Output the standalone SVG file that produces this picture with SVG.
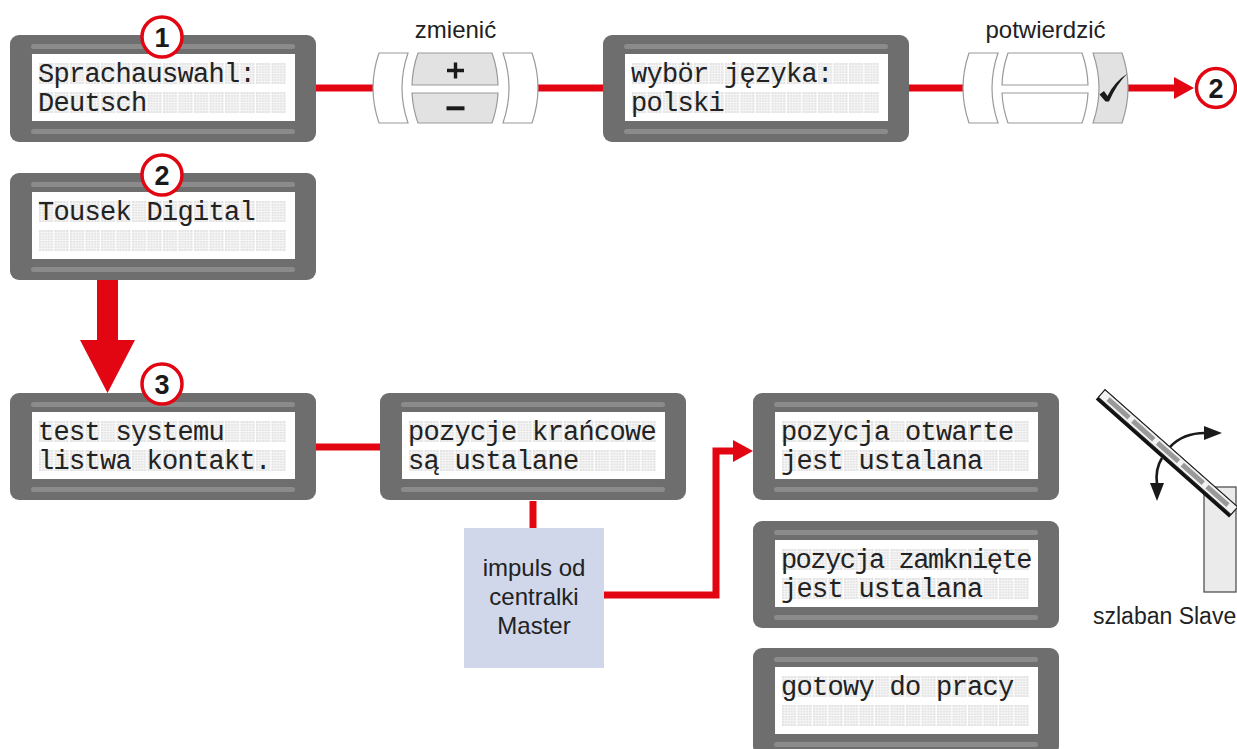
<svg xmlns="http://www.w3.org/2000/svg" xmlns:xlink="http://www.w3.org/1999/xlink" width="1237" height="749" viewBox="0 0 1237 749">
  <style>
    .frame{fill:#6e6e6e}
    .stripe{fill:#8b8b8b}
    .screen{fill:#fff}
    .cells{fill:url(#lcdCells)}
    .lcd{font-family:"Liberation Mono","DejaVu Sans Mono",monospace;font-size:27px;letter-spacing:-0.7px;fill:#222}
    .wire{fill:none;stroke:#e20613;stroke-width:7}
    .badge circle{fill:#fff;stroke:#e20613;stroke-width:3.5}
    .badge text{font-family:"Liberation Sans",Arial,sans-serif;font-weight:bold;font-size:27px;fill:#1a1a1a;text-anchor:middle}
    .label{font-family:"Liberation Sans",Arial,sans-serif;font-size:24px;fill:#222}
    .key{fill:#fff;stroke:#9a9a9a;stroke-width:1.2}
    .key.pressed{fill:#e2e2e2}
    .sign{fill:none;stroke:#1a1a1a}
    .ink{fill:#1a1a1a}
  </style>
  <defs>
    <!-- one 5x8 character cell of the LCD, repeated along each row -->
    <pattern id="lcdCells" patternUnits="userSpaceOnUse" x="29" y="28" width="15.5" height="29">
      <rect width="14" height="21" fill="#e3e3e3"/>
      <path d="M2.8,0V21M5.6,0V21M8.4,0V21M11.2,0V21M0,2.62H14M0,5.25H14M0,7.87H14M0,10.5H14M0,13.12H14M0,15.75H14M0,18.37H14" stroke="#fff" stroke-width="0.6"/>
    </pattern>
    <!-- LCD module: housing, light rails, screen and 16x2 cell grid -->
    <g id="lcdFrame">
      <rect class="frame" width="306" height="107" rx="9"/>
      <rect class="stripe" x="21" y="9" width="264" height="5" rx="2.5"/>
      <rect class="stripe" x="21" y="94" width="264" height="5" rx="2.5"/>
      <rect class="screen" x="22" y="19" width="263" height="67"/>
      <rect class="cells" x="29" y="28" width="248" height="50"/>
    </g>
    <marker id="redHead" viewBox="0 0 20 22" markerUnits="userSpaceOnUse" markerWidth="20" markerHeight="22" refX="8" refY="11" orient="auto">
      <path d="M0,0L20,11L0,22Z" fill="#e20613"/>
    </marker>
  </defs>

  <!-- connectors -->
  <g id="connectors">
    <path class="wire" d="M316,88H373"/>
    <path class="wire" d="M538,88H603"/>
    <path class="wire" d="M908,88H963"/>
    <path class="wire" d="M1128,88H1182" marker-end="url(#redHead)"/>
    <path d="M97,280H118V340H135L107.5,393L80,340H97Z" fill="#e20613"/>
    <path class="wire" d="M316,447H380"/>
    <path class="wire" d="M533,501V528"/>
    <path class="wire" d="M604,595H716V451H741" marker-end="url(#redHead)"/>
  </g>

  <!-- step 1: language selection -->
  <g id="lcd-language-de" transform="translate(10,35)">
    <use href="#lcdFrame" xlink:href="#lcdFrame"/>
    <text class="lcd" x="27.9" y="46.5">Sprachauswahl:</text>
    <text class="lcd" x="27.9" y="75.5">Deutsch</text>
  </g>
  <g id="step-1" class="badge">
    <circle cx="162" cy="37" r="20"/>
    <text x="162" y="46.7">1</text>
  </g>

  <g id="keys-change" transform="translate(373,53)">
    <text class="label" x="82.5" y="-15" text-anchor="middle">zmienić</text>
    <path class="key" d="M6,0H35Q23,35 35,70H6Q-6,35 6,0Z"/>
    <path class="key pressed" d="M45,0H119A105,105 0 0 1 125,32H39A105,105 0 0 1 45,0Z"/>
    <path class="key pressed" d="M39,40H125A105,105 0 0 1 119,70H45A105,105 0 0 1 39,40Z"/>
    <path class="key" d="M159,0H130Q142,35 130,70H159Q171,35 159,0Z"/>
    <path class="sign" d="M82.5,9.5V25.5M74,17.5H91" stroke-width="3.4"/>
    <path class="sign" d="M73.5,55.3H91.5" stroke-width="4"/>
  </g>

  <g id="lcd-language-pl" transform="translate(603,35)">
    <use href="#lcdFrame" xlink:href="#lcdFrame"/>
    <text class="lcd" x="27.9" y="46.5">wybör języka:</text>
    <text class="lcd" x="27.9" y="75.5">polski</text>
  </g>

  <g id="keys-confirm" transform="translate(963,53)">
    <text class="label" x="82.5" y="-15" text-anchor="middle">potwierdzić</text>
    <path class="key" d="M6,0H35Q23,35 35,70H6Q-6,35 6,0Z"/>
    <path class="key" d="M45,0H119A105,105 0 0 1 125,32H39A105,105 0 0 1 45,0Z"/>
    <path class="key" d="M39,40H125A105,105 0 0 1 119,70H45A105,105 0 0 1 39,40Z"/>
    <path class="key pressed" d="M159,0H130Q142,35 130,70H159Q171,35 159,0Z"/>
    <path class="ink" d="M136.5,41.5L141,38L144.5,43Q151,29 164.5,20.5Q153.5,31 146,48.5L142.5,48.5Z"/>
  </g>

  <g id="goto-step-2" class="badge">
    <circle cx="1216" cy="88" r="19.5"/>
    <text x="1216" y="97.7">2</text>
  </g>

  <!-- step 2: start screen -->
  <g id="lcd-start" transform="translate(10,173)">
    <use href="#lcdFrame" xlink:href="#lcdFrame"/>
    <text class="lcd" x="27.9" y="46.5">Tousek Digital</text>
  </g>
  <g id="step-2" class="badge">
    <circle cx="162" cy="175" r="20"/>
    <text x="162" y="184.7">2</text>
  </g>

  <!-- step 3: system test and end positions -->
  <g id="lcd-system-test" transform="translate(10,393)">
    <use href="#lcdFrame" xlink:href="#lcdFrame"/>
    <text class="lcd" x="27.9" y="46.5">test systemu</text>
    <text class="lcd" x="27.9" y="75.5">listwa kontakt.</text>
  </g>
  <g id="step-3" class="badge">
    <circle cx="162" cy="384" r="20"/>
    <text x="162" y="393.7">3</text>
  </g>

  <g id="lcd-end-positions" transform="translate(380,393)">
    <use href="#lcdFrame" xlink:href="#lcdFrame"/>
    <text class="lcd" x="27.9" y="46.5">pozycje krańcowe</text>
    <text class="lcd" x="27.9" y="75.5">są ustalane</text>
  </g>

  <g id="master-impulse">
    <rect x="464" y="528" width="140" height="140" fill="#d0d7eb"/>
    <text class="label" x="534" y="576" text-anchor="middle">impuls od</text>
    <text class="label" x="534" y="605" text-anchor="middle">centralki</text>
    <text class="label" x="534" y="634" text-anchor="middle">Master</text>
  </g>

  <g id="lcd-open-position" transform="translate(753,393)">
    <use href="#lcdFrame" xlink:href="#lcdFrame"/>
    <text class="lcd" x="27.9" y="46.5">pozycja otwarte</text>
    <text class="lcd" x="27.9" y="75.5">jest ustalana</text>
  </g>

  <g id="lcd-closed-position" transform="translate(753,521)">
    <use href="#lcdFrame" xlink:href="#lcdFrame"/>
    <text class="lcd" x="27.9" y="46.5" style="letter-spacing:-1.5px">pozycja zamknięte</text>
    <text class="lcd" x="27.9" y="75.5">jest ustalana</text>
  </g>

  <g id="lcd-ready" transform="translate(753,648)">
    <use href="#lcdFrame" xlink:href="#lcdFrame"/>
    <text class="lcd" x="27.9" y="46.5">gotowy do pracy</text>
  </g>

  <!-- slave barrier with swinging boom -->
  <g id="barrier-slave">
    <rect x="1204" y="487" width="32" height="105" fill="#ebebeb" stroke="#444" stroke-width="1.2"/>
    <g transform="translate(1105,389) rotate(41.5)">
      <rect x="0" y="0" width="178" height="14" fill="#111"/>
      <rect x="0.5" y="0.5" width="177" height="10" fill="#f2f2f2" stroke="#222" stroke-width="1"/>
      <path d="M9,5.5h28M42,5.5h28M75,5.5h28M108,5.5h28M141,5.5h28" stroke="#999" stroke-width="5"/>
    </g>
    <path d="M1170,447Q1183,433 1205,433" fill="none" stroke="#1a1a1a" stroke-width="2.6"/>
    <path class="ink" d="M1204,426L1222,433L1204,440Z"/>
    <path d="M1162,458Q1155,469 1157,484" fill="none" stroke="#1a1a1a" stroke-width="2.6"/>
    <path class="ink" d="M1150,483L1157,501L1164,483Z"/>
    <text class="label" x="1093" y="624" style="font-size:23px">szlaban Slave</text>
  </g>
</svg>
